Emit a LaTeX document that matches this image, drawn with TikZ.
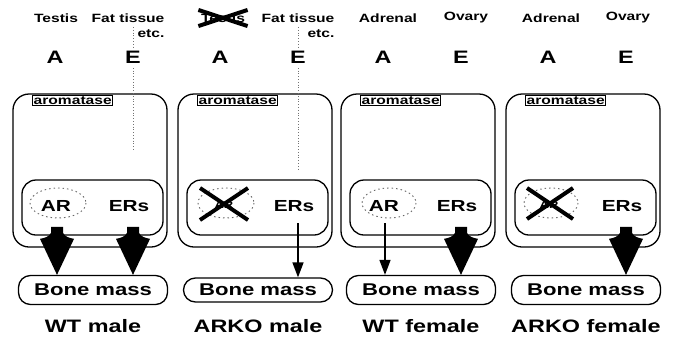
\documentclass[tikz,border=0pt]{standalone}
\usepackage{fontspec}
\setmainfont{Liberation Sans}[FakeStretch=1.3]
\usetikzlibrary{arrows.meta,calc}
\newcommand\fatarrow[1]{\fill[shift={(#1)}] (-6,-48) -- (6,-48) -- (6,-42) .. controls (8,-38) and (12,-37) .. (17,-36) -- (0,0) -- (-17,-36) .. controls (-12,-37) and (-8,-38) .. (-6,-42) -- cycle;}
\begin{document}
\begin{tikzpicture}[x=1pt,y=-1pt,line width=1.3pt,
  outerbox/.style={draw,rounded corners=16pt},
  innerbox/.style={draw,rounded corners=14pt},
  hdr/.style={inner sep=0pt,font=\fontsize{12}{12}\selectfont\bfseries},
  big/.style={inner sep=0pt,font=\fontsize{18}{18}\selectfont\bfseries},
  rec/.style={inner sep=0pt,font=\fontsize{16}{16}\selectfont\bfseries},
  smallrec/.style={inner sep=0pt,font=\fontsize{10}{10}\selectfont\bfseries},
  arom/.style={draw,line width=1pt,inner sep=1.2pt,anchor=north west,font=\fontsize{12}{12}\selectfont\bfseries},
  bone/.style={draw,rounded corners=12pt,minimum width=149pt,inner sep=0pt,font=\fontsize{17}{17}\selectfont\bfseries},
  lab/.style={inner sep=0pt,font=\fontsize{18}{18}\selectfont\bfseries},
  dots/.style={draw=black!55,dotted,line width=0.8pt},
  slimarrow/.style={-{Triangle[length=15pt,width=11pt]},line width=1.6pt},
  cross/.style={line width=4pt},
  ring/.style={draw=black!60,dash pattern=on 1.5pt off 3pt,line width=0.9pt}]
\useasboundingbox (0,0) rectangle (673,338);

\foreach \x/\n/\h/\lab in {13/1/29/WT male,178/2/24/ARKO male,341/3/29/WT female,506/4/29/ARKO female}{
  \draw[outerbox] (\x,94) rectangle (\x+154,247);
  \node[arom] (arom\n) at (\x+19,95) {aromatase};
  \draw[innerbox] (\x+9,180) rectangle (\x+150,235);
  \node[big] (A\n) at (\x+42,57) {A};
  \node[big] (E\n) at (\x+120,57) {E};
  \node[rec] (ER\n) at (\x+116,206) {ERs};
  \node[bone,minimum height=\h pt] (bm\n) at (\x+80,290) {Bone mass};
  \node[lab] (lab\n) at (\x+80,326) {\lab};
  \coordinate (aa\n) at (\x+44,223);
  \coordinate (ea\n) at (\x+120,223);
}

% panel 1: WT male
\node[hdr] (t1) at (56,18) {Testis};
\node[hdr] (f1) at (128,18) {Fat tissue};
\node[hdr,anchor=east] (etc1) at ($(f1.east)+(0,16)$) {etc.};
\draw[dots] (133,27) -- (133,47);
\draw[dots] ($(E1.south)+(0,4)$) -- (133,150);
\node[rec] (AR1) at (56,206) {AR};
\draw[ring] (58,203) ellipse [x radius=28, y radius=15];
\fatarrow{aa1 |- bm1.north}
\fatarrow{ea1 |- bm1.north}

% panel 2: ARKO male
\node[hdr] (t2) at (223,18) {Testis};
\draw[cross] ($(t2.north west)+(-2,-3)$) -- ($(t2.south east)+(2,3)$);
\draw[cross] ($(t2.south west)+(-2,3)$) -- ($(t2.north east)+(2,-3)$);
\node[hdr] (f2) at (298,18) {Fat tissue};
\node[hdr,anchor=east] (etc2) at ($(f2.east)+(0,16)$) {etc.};
\draw[dots] (298,27) -- (298,47);
\draw[dots] ($(E2.south)+(0,4)$) -- (298,170);
\node[smallrec] (AR2) at (224,205) {AR};
\draw[ring] (226,203) ellipse [x radius=28, y radius=15];
\draw[cross] (200,188) -- (248,220);
\draw[cross] (200,220) -- (248,188);
\draw[slimarrow] (ea2) -- (ea2 |- bm2.north);

% panel 3: WT female
\node[hdr] (ad3) at (388,18) {Adrenal};
\node[hdr] (ov3) at (466,18) {Ovary};
\node[rec] (AR3) at (384,206) {AR};
\draw[ring] (389,203) ellipse [x radius=27, y radius=15];
\draw[slimarrow] (aa3) -- (aa3 |- bm3.north);
\fatarrow{ea3 |- bm3.north}

% panel 4: ARKO female
\node[hdr] (ad4) at (551,18) {Adrenal};
\node[hdr] (ov4) at (628,18) {Ovary};
\node[smallrec] (AR4) at (549,205) {AR};
\draw[ring] (551,203) ellipse [x radius=27, y radius=15];
\draw[cross] (527,188) -- (573,219);
\draw[cross] (527,219) -- (573,188);
\fatarrow{ea4 |- bm4.north}
\end{tikzpicture}
\end{document}
